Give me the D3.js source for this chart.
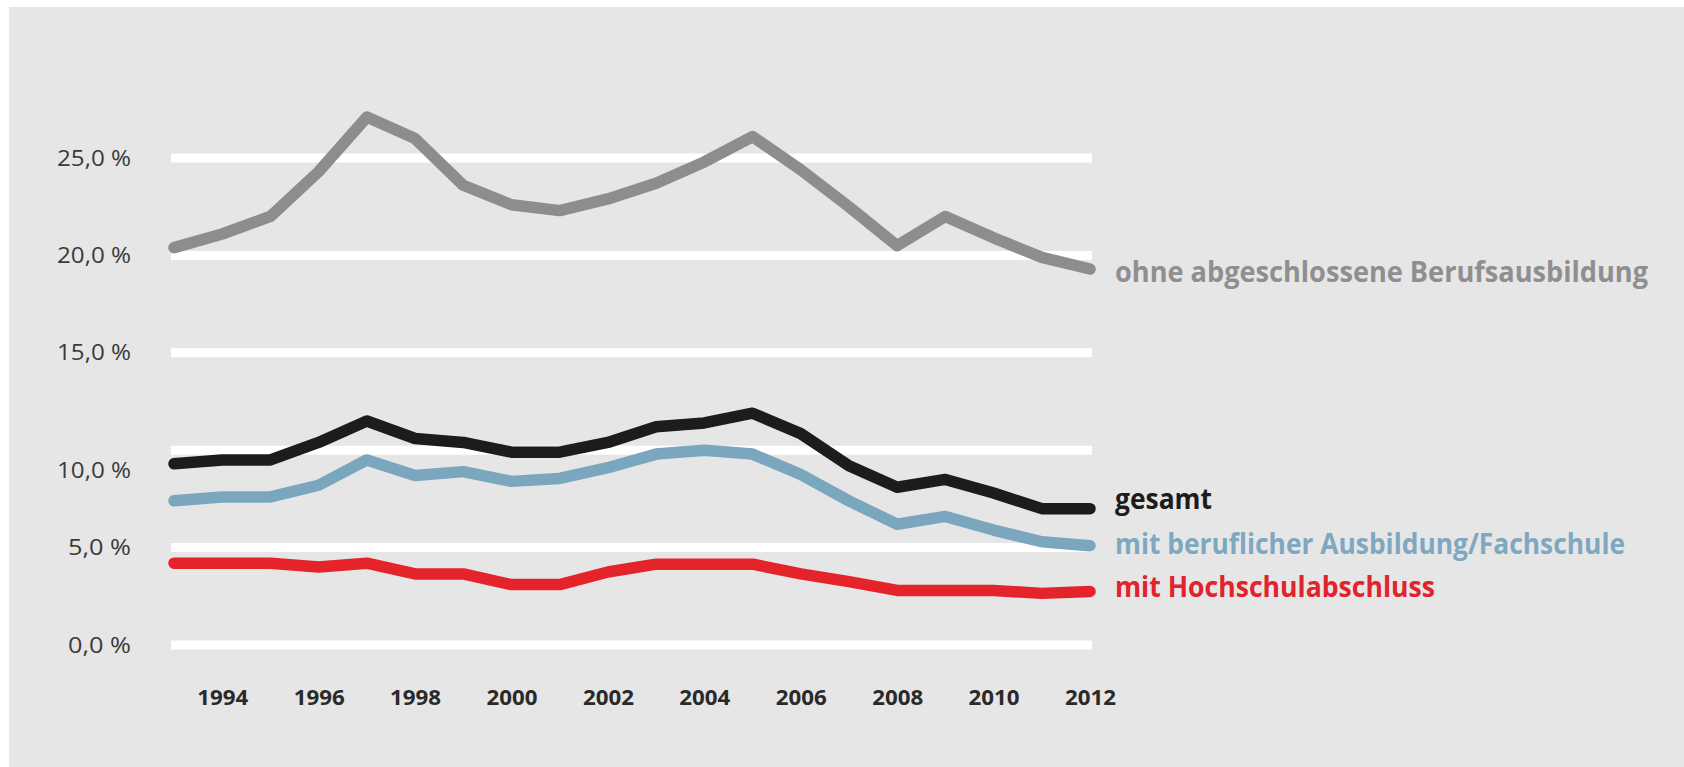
<!DOCTYPE html>
<html>
<head>
<meta charset="utf-8">
<script src="https://cdn.jsdelivr.net/npm/d3@7"></script>
<style>
  html, body { margin: 0; padding: 0; background: #ffffff; }
  svg { display: block; }
</style>
</head>
<body>
<svg id="chart" width="1684" height="767"></svg>
<script>
// ---------- data ----------
const years = [1993,1994,1995,1996,1997,1998,1999,2000,2001,2002,2003,2004,2005,2006,2007,2008,2009,2010,2011,2012];
const ohneBerufsausbildung = [20.4,21.1,22.0,24.3,27.1,26.0,23.6,22.6,22.3,22.9,23.7,24.8,26.1,24.4,22.5,20.5,22.0,20.9,19.9,19.3];
const gesamt               = [9.3,9.5,9.5,10.4,11.5,10.6,10.4,9.9,9.9,10.4,11.2,11.4,11.9,10.85,9.2,8.1,8.5,7.8,7.0,7.0];
const beruflicheAusbildung = [7.4,7.6,7.6,8.2,9.5,8.7,8.9,8.4,8.55,9.1,9.8,10.0,9.8,8.75,7.4,6.2,6.6,5.9,5.3,5.1];
const hochschulabschluss   = [4.2,4.2,4.2,4.0,4.2,3.65,3.65,3.1,3.1,3.75,4.15,4.15,4.15,3.65,3.25,2.8,2.8,2.8,2.65,2.75];
const seriesNames = ["ohne abgeschlossene Berufsausbildung","gesamt","mit beruflicher Ausbildung/Fachschule","mit Hochschulabschluss"];
const yTicks = [0,5,10,15,20,25];
const yTickLabels = ["0,0 %","5,0 %","10,0 %","15,0 %","20,0 %","25,0 %"];
const xTicks = [1994,1996,1998,2000,2002,2004,2006,2008,2010,2012];

// ---------- styles / layout ----------
const seriesStyle = [
  {values: ohneBerufsausbildung, line: "#8d8d8f", text: "#8f8f91", labelDy: 13, labelW: 533},
  {values: beruflicheAusbildung, line: "#7aa6be", text: "#7ea8bf", labelDy: 8,  labelW: 510},
  {values: gesamt,               line: "#1c1c1c", text: "#1c1c1c", labelDy: 0,  labelW: 97},
  {values: hochschulabschluss,   line: "#e4232a", text: "#e1232b", labelDy: 6,  labelW: 320}
];
const nameIndex = [0,2,1,3];

const svg = d3.select("#chart");
svg.append("rect").attr("x", 9).attr("y", 7).attr("width", 1684 - 9).attr("height", 767 - 7).attr("fill", "#e6e6e6");

const x = d3.scaleLinear().domain([1993, 2012]).range([174, 1090]);
const y = d3.scaleLinear().domain([0, 25]).range([645, 158]);

// gridlines
svg.append("g").selectAll("line").data(yTicks).join("line")
  .attr("x1", x(1993) - 3).attr("x2", x(2012) + 2)
  .attr("y1", d => y(d)).attr("y2", d => y(d))
  .attr("stroke", "#ffffff").attr("stroke-width", 9);

// y axis labels
const yAxis = d3.axisLeft(y).tickValues(yTicks).tickSize(0).tickPadding(0)
  .tickFormat((d, i) => yTickLabels[i]);
const gy = svg.append("g").attr("transform", "translate(131,0)").call(yAxis);
gy.select(".domain").remove();
gy.selectAll("text")
  .attr("font-family", "'Open Sans', sans-serif")
  .attr("font-size", 21)
  .attr("fill", "#3a3a3a")
  .attr("dy", d => d === 10 ? "27px" : "7px")
  .attr("textLength", d => d >= 10 ? 74 : 63)
  .attr("lengthAdjust", "spacingAndGlyphs");

// x axis labels
const xAxis = d3.axisBottom(x).tickValues(xTicks).tickSize(0).tickPadding(0).tickFormat(d3.format("d"));
const gx = svg.append("g").attr("transform", "translate(0,705)").call(xAxis);
gx.select(".domain").remove();
gx.selectAll("text")
  .attr("font-family", "'Open Sans', sans-serif")
  .attr("font-weight", 700)
  .attr("font-size", 21)
  .attr("fill", "#2a2a2a")
  .attr("dy", "0")
  .attr("textLength", 51)
  .attr("lengthAdjust", "spacingAndGlyphs");

// lines
const line = d3.line().x((d, i) => x(years[i])).y(d => y(d));
svg.append("g").selectAll("path").data(seriesStyle).join("path")
  .attr("d", d => line(d.values))
  .attr("fill", "none")
  .attr("stroke", d => d.line)
  .attr("stroke-width", 11.5)
  .attr("stroke-linecap", "round")
  .attr("stroke-linejoin", "round");

// series labels
svg.append("g").selectAll("text").data(seriesStyle).join("text")
  .attr("x", x(2012) + 25)
  .attr("y", d => y(d.values[d.values.length - 1]) + d.labelDy)
  .attr("font-family", "'Open Sans', sans-serif")
  .attr("font-weight", 700)
  .attr("font-size", 28)
  .attr("fill", d => d.text)
  .attr("textLength", d => d.labelW)
  .attr("lengthAdjust", "spacingAndGlyphs")
  .text((d, i) => seriesNames[nameIndex[i]]);
</script>
</body>
</html>
